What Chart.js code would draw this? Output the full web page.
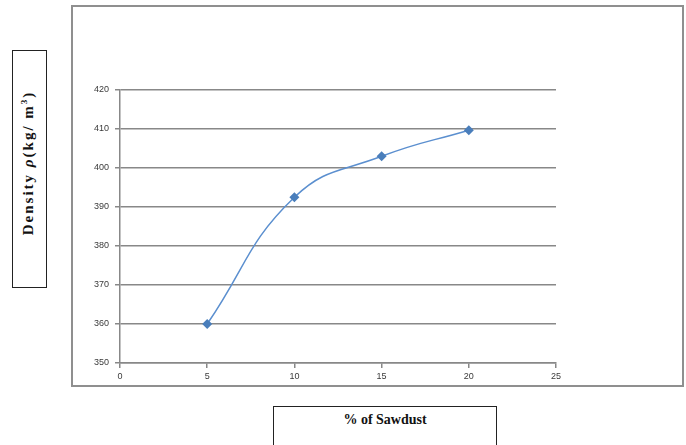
<!DOCTYPE html>
<html lang="en">
<head>
    <meta charset="UTF-8">
    <title>Density vs % of Sawdust</title>
    <style>
        body {
            margin: 0;
            background: #fff;
            width: 686px;
            height: 445px;
            overflow: hidden;
            position: relative;
        }
        #frame {
            position: absolute;
            left: 71px;
            top: 5px;
            width: 609px;
            height: 378px;
            border: 2px solid #8f8f8f;
        }
        #chart-container {
            position: absolute;
            left: 0;
            top: 0;
            width: 686px;
            height: 445px;
        }
        .axis-box {
            position: absolute;
            border: 1.5px solid #222;
            background: #fff;
            font-family: "Liberation Serif", "Times New Roman", serif;
            font-weight: bold;
            color: #111;
        }
        #y-title {
            left: 12px;
            top: 50px;
            width: 33px;
            height: 236px;
        }
        #y-title span {
            position: absolute;
            left: 15px;
            top: 112px;
            transform: translate(-50%, -50%) rotate(-90deg);
            white-space: nowrap;
            font-size: 15px;
            letter-spacing: 2px;
        }
        #x-title {
            left: 273px;
            top: 406px;
            width: 222px;
            height: 60px;
            text-align: center;
            font-size: 14px;
            line-height: 26px;
        }
    </style>
    <script src="https://cdn.jsdelivr.net/npm/chart.js"></script>
</head>
<body>
    <div id="frame"></div>
    <div id="chart-container">
        <canvas id="density-chart" width="686" height="445"></canvas>
    </div>
    <div class="axis-box" id="y-title"><span>Density <i>ρ</i>(kg/ m<sup style="font-size:9px">3</sup>)</span></div>
    <div class="axis-box" id="x-title">% of Sawdust</div>

    <script>
        // data
        const sawdust = [5, 10, 15, 20];
        const density = [360, 392.5, 403, 409.7];
        const xTicks = [0, 5, 10, 15, 20, 25];
        const yTicks = [350, 360, 370, 380, 390, 400, 410, 420];

        const points = sawdust.map((x, i) => ({ x: x, y: density[i] }));

        const tickFont = { family: 'Liberation Sans, Arial, sans-serif', size: 9 };

        const ctx = document.getElementById('density-chart').getContext('2d');
        new Chart(ctx, {
            type: 'line',
            data: {
                datasets: [{
                    label: 'Density',
                    data: points,
                    borderColor: '#5b8fcf',
                    backgroundColor: '#4a7ebb',
                    borderWidth: 1.5,
                    tension: 0.45,
                    pointStyle: 'rectRot',
                    pointRadius: 5,
                    pointBorderWidth: 0,
                    fill: false
                }]
            },
            options: {
                responsive: false,
                animation: false,
                layout: {
                    padding: { left: 80, top: 90, right: 130, bottom: 52 }
                },
                plugins: {
                    legend: { display: false },
                    tooltip: { enabled: false }
                },
                scales: {
                    x: {
                        type: 'linear',
                        min: 0,
                        max: 25,
                        afterBuildTicks: s => { s.ticks = xTicks.map(v => ({ value: v })); },
                        afterFit: s => { s.height = 30; },
                        ticks: { font: tickFont, color: '#3a3a3a', padding: 3, maxRotation: 0 },
                        grid: { drawOnChartArea: false, color: '#888', lineWidth: 1.5, tickLength: 5 },
                        border: { color: '#888', width: 1.5 }
                    },
                    y: {
                        min: 350,
                        max: 420,
                        afterBuildTicks: s => { s.ticks = yTicks.map(v => ({ value: v })); },
                        afterFit: s => { s.width = 40; },
                        ticks: { font: tickFont, color: '#3a3a3a', padding: 6 },
                        grid: { color: '#888', lineWidth: 1.5, tickLength: 5 },
                        border: { color: '#888', width: 1.5 }
                    }
                }
            }
        });
    </script>
</body>
</html>
